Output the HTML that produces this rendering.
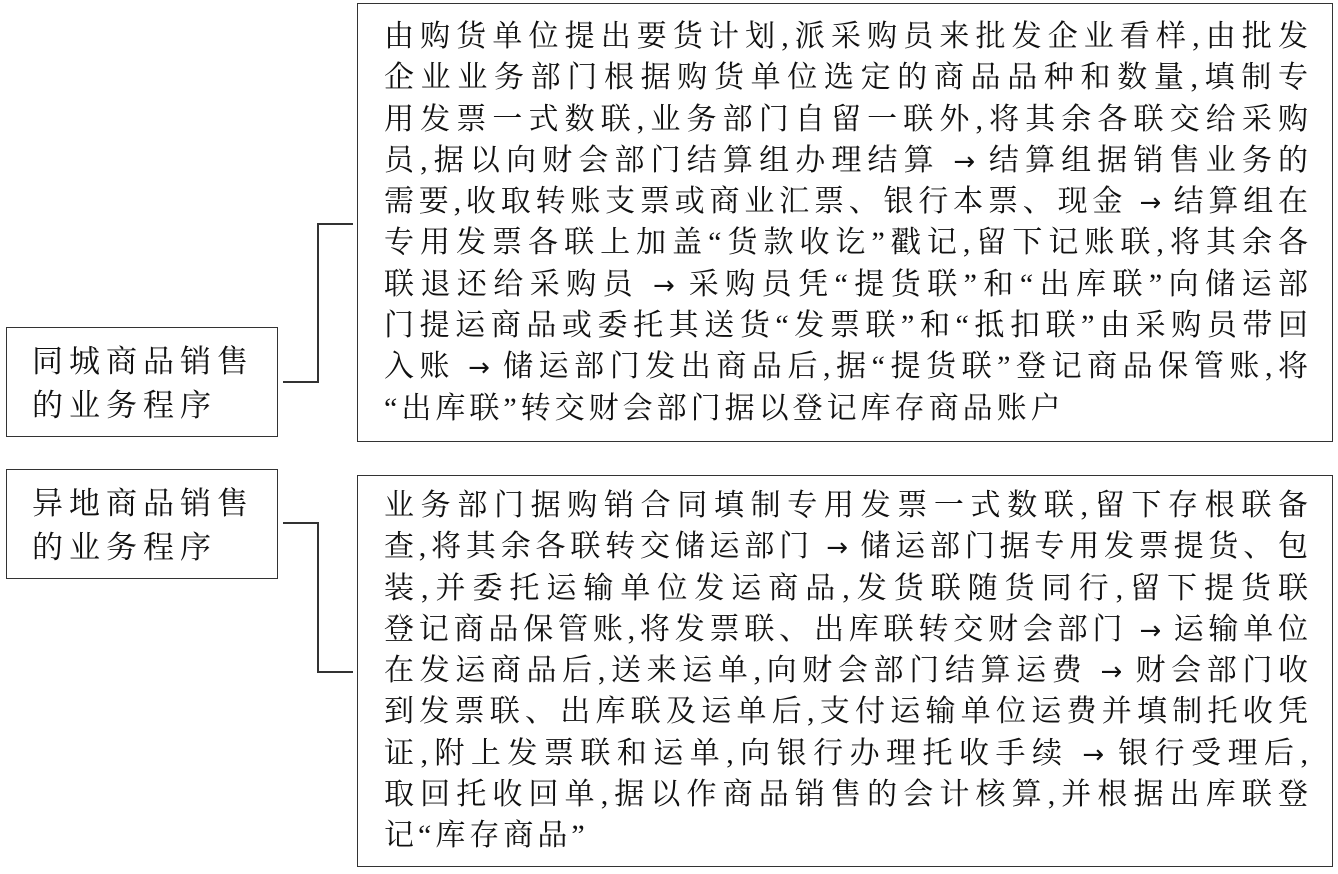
<!DOCTYPE html>
<html><head><meta charset="utf-8"><style>
body{margin:0;width:1338px;height:874px;background:#fff;position:relative;font-family:"Liberation Serif","Noto Serif CJK SC",serif;color:#111;overflow:hidden}
.box{position:absolute;border:1.5px solid #333;box-sizing:border-box}
.ln{position:absolute;background:#333}
.t{position:absolute;left:384px;width:924px;font-size:30px;line-height:41.3px;}
.t div{text-align:justify;text-align-last:justify;white-space:nowrap;height:41.3px}
.t div.l{text-align-last:left;letter-spacing:4px}
.ar{font-family:"DejaVu Sans",sans-serif;font-size:26px}
.lab{position:absolute;left:32px;font-size:31px;line-height:44px;letter-spacing:6px}
</style></head><body>
<div class="box" style="left:6px;top:327px;width:272px;height:110px"></div>
<div class="lab" style="top:340px">同城商品销售<br>的业务程序</div>
<div class="box" style="left:6px;top:469px;width:272px;height:110px"></div>
<div class="lab" style="top:482px">异地商品销售<br>的业务程序</div>
<div class="box" style="left:357px;top:3px;width:976px;height:439px"></div>
<div class="box" style="left:357px;top:475px;width:976px;height:392px"></div>
<div class="ln" style="left:283px;top:381px;width:36px;height:1.5px"></div>
<div class="ln" style="left:317px;top:223px;width:1.5px;height:160px"></div>
<div class="ln" style="left:317px;top:223px;width:36px;height:1.5px"></div>
<div class="ln" style="left:283px;top:522px;width:36px;height:1.5px"></div>
<div class="ln" style="left:317px;top:522px;width:1.5px;height:150px"></div>
<div class="ln" style="left:317px;top:671px;width:36px;height:1.5px"></div>
<div class="t" style="top:16px">
<div>由购货单位提出要货计划,派采购员来批发企业看样,由批发</div>
<div>企业业务部门根据购货单位选定的商品品种和数量,填制专</div>
<div>用发票一式数联,业务部门自留一联外,将其余各联交给采购</div>
<div>员,据以向财会部门结算组办理结算 <span class="ar">→</span> 结算组据销售业务的</div>
<div>需要,收取转账支票或商业汇票、银行本票、现金 <span class="ar">→</span> 结算组在</div>
<div>专用发票各联上加盖“货款收讫”戳记,留下记账联,将其余各</div>
<div>联退还给采购员 <span class="ar">→</span> 采购员凭“提货联”和“出库联”向储运部</div>
<div>门提运商品或委托其送货“发票联”和“抵扣联”由采购员带回</div>
<div>入账 <span class="ar">→</span> 储运部门发出商品后,据“提货联”登记商品保管账,将</div>
<div class="l">“出库联”转交财会部门据以登记库存商品账户</div>
</div>
<div class="t" style="top:485px">
<div>业务部门据购销合同填制专用发票一式数联,留下存根联备</div>
<div>查,将其余各联转交储运部门 <span class="ar">→</span> 储运部门据专用发票提货、包</div>
<div>装,并委托运输单位发运商品,发货联随货同行,留下提货联</div>
<div>登记商品保管账,将发票联、出库联转交财会部门 <span class="ar">→</span> 运输单位</div>
<div>在发运商品后,送来运单,向财会部门结算运费 <span class="ar">→</span> 财会部门收</div>
<div>到发票联、出库联及运单后,支付运输单位运费并填制托收凭</div>
<div>证,附上发票联和运单,向银行办理托收手续 <span class="ar">→</span> 银行受理后,</div>
<div>取回托收回单,据以作商品销售的会计核算,并根据出库联登</div>
<div class="l">记“库存商品”</div>
</div>
</body></html>
